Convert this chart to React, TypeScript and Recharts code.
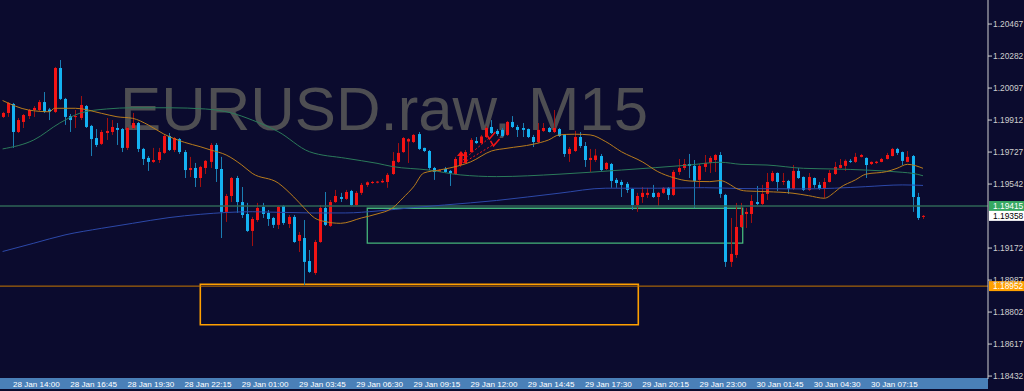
import { ComposedChart, Bar, Line, XAxis, YAxis, ReferenceLine, ReferenceArea, ReferenceDot } from 'recharts'

// EURUSD M15 bars, 28 Jan 13:30 → 30 Jan 09:45 (one entry per bar)
const OPEN = [
  1.19930, 1.19953, 1.20005, 1.19843, 1.19901, 1.19935, 1.19970, 1.19970, 1.20016, 1.19973,
  1.19959, 1.20213, 1.20034, 1.19935, 1.19930, 1.19924, 1.19993, 1.19878, 1.19808, 1.19774,
  1.19837, 1.19843, 1.19866, 1.19860, 1.19751, 1.19866, 1.19895, 1.19745, 1.19693, 1.19670,
  1.19681, 1.19722, 1.19820, 1.19739, 1.19802, 1.19727, 1.19623, 1.19635, 1.19577, 1.19635,
  1.19670, 1.19768, 1.19629, 1.19381, 1.19473, 1.19577, 1.19438, 1.19369, 1.19271, 1.19334,
  1.19410, 1.19375, 1.19346, 1.19306, 1.19415, 1.19311, 1.19352, 1.19213, 1.19230, 1.19097,
  1.19028, 1.19207, 1.19404, 1.19300, 1.19438, 1.19467, 1.19456, 1.19502, 1.19421, 1.19491,
  1.19537, 1.19548, 1.19550, 1.19552, 1.19554, 1.19600, 1.19670, 1.19727, 1.19788, 1.19785,
  1.19831, 1.19751, 1.19733, 1.19635, 1.19612, 1.19629, 1.19618, 1.19600, 1.19652, 1.19664,
  1.19727, 1.19791, 1.19779, 1.19814, 1.19872, 1.19849, 1.19855, 1.19826, 1.19901, 1.19872,
  1.19866, 1.19860, 1.19814, 1.19785, 1.19849, 1.19866, 1.19843, 1.19860, 1.19826, 1.19716,
  1.19733, 1.19814, 1.19762, 1.19681, 1.19681, 1.19704, 1.19629, 1.19658, 1.19566, 1.19554,
  1.19543, 1.19514, 1.19421, 1.19467, 1.19479, 1.19491, 1.19467, 1.19491, 1.19520, 1.19479,
  1.19612, 1.19635, 1.19658, 1.19647, 1.19566, 1.19641, 1.19664, 1.19681, 1.19710, 1.19479,
  1.19092, 1.19132, 1.19294, 1.19369, 1.19369, 1.19438, 1.19427, 1.19485, 1.19560, 1.19606,
  1.19554, 1.19560, 1.19514, 1.19618, 1.19583, 1.19508, 1.19577, 1.19537, 1.19514, 1.19554,
  1.19600, 1.19635, 1.19647, 1.19676, 1.19670, 1.19699, 1.19693, 1.19658, 1.19664, 1.19670,
  1.19687, 1.19704, 1.19745, 1.19727, 1.19670, 1.19704, 1.19467, 1.19355,
]
const HIGH = [
  1.19959, 1.20016, 1.20011, 1.19924, 1.19947, 1.19976, 1.19993, 1.20028, 1.20074, 1.19982,
  1.20219, 1.20259, 1.20040, 1.19947, 1.19970, 1.20051, 1.19999, 1.19884, 1.19860, 1.19855,
  1.19924, 1.19912, 1.19895, 1.19866, 1.19872, 1.19953, 1.19901, 1.19751, 1.19704, 1.19751,
  1.19751, 1.19831, 1.19837, 1.19814, 1.19808, 1.19739, 1.19699, 1.19664, 1.19647, 1.19681,
  1.19779, 1.19779, 1.19699, 1.19485, 1.19583, 1.19589, 1.19525, 1.19433, 1.19352, 1.19433,
  1.19433, 1.19392, 1.19352, 1.19415, 1.19421, 1.19363, 1.19363, 1.19265, 1.19334, 1.19161,
  1.19219, 1.19421, 1.19496, 1.19450, 1.19508, 1.19491, 1.19508, 1.19508, 1.19502, 1.19548,
  1.19557, 1.19560, 1.19560, 1.19572, 1.19606, 1.19727, 1.19779, 1.19814, 1.19808, 1.19831,
  1.19843, 1.19752, 1.19739, 1.19641, 1.19629, 1.19641, 1.19623, 1.19699, 1.19716, 1.19739,
  1.19808, 1.19814, 1.19826, 1.19878, 1.19912, 1.19860, 1.19866, 1.19907, 1.19935, 1.19884,
  1.19895, 1.19863, 1.19826, 1.19895, 1.19895, 1.19872, 1.19970, 1.19866, 1.19831, 1.19756,
  1.19849, 1.19843, 1.19785, 1.19745, 1.19745, 1.19716, 1.19670, 1.19664, 1.19577, 1.19566,
  1.19554, 1.19517, 1.19491, 1.19525, 1.19520, 1.19537, 1.19496, 1.19525, 1.19525, 1.19623,
  1.19687, 1.19687, 1.19716, 1.19681, 1.19658, 1.19710, 1.19704, 1.19716, 1.19727, 1.19485,
  1.19346, 1.19433, 1.19433, 1.19404, 1.19479, 1.19531, 1.19537, 1.19606, 1.19618, 1.19609,
  1.19606, 1.19566, 1.19652, 1.19635, 1.19586, 1.19606, 1.19580, 1.19554, 1.19577, 1.19623,
  1.19670, 1.19687, 1.19684, 1.19687, 1.19722, 1.19716, 1.19696, 1.19673, 1.19676, 1.19693,
  1.19722, 1.19751, 1.19751, 1.19730, 1.19733, 1.19710, 1.19491, 1.19363,
]
const LOW = [
  1.19924, 1.19930, 1.19751, 1.19837, 1.19866, 1.19918, 1.19930, 1.19964, 1.19953, 1.19912,
  1.19953, 1.20028, 1.19884, 1.19843, 1.19866, 1.19912, 1.19866, 1.19704, 1.19756, 1.19768,
  1.19797, 1.19826, 1.19768, 1.19727, 1.19739, 1.19860, 1.19727, 1.19652, 1.19618, 1.19664,
  1.19664, 1.19716, 1.19733, 1.19727, 1.19716, 1.19577, 1.19583, 1.19525, 1.19525, 1.19600,
  1.19635, 1.19554, 1.19230, 1.19323, 1.19438, 1.19375, 1.19346, 1.19265, 1.19184, 1.19323,
  1.19346, 1.19300, 1.19288, 1.19282, 1.19306, 1.19288, 1.19202, 1.19149, 1.18959, 1.19028,
  1.19017, 1.19202, 1.19300, 1.19294, 1.19433, 1.19438, 1.19450, 1.19415, 1.19415, 1.19479,
  1.19525, 1.19543, 1.19546, 1.19548, 1.19520, 1.19595, 1.19664, 1.19722, 1.19664, 1.19779,
  1.19739, 1.19727, 1.19623, 1.19566, 1.19612, 1.19606, 1.19531, 1.19595, 1.19641, 1.19658,
  1.19722, 1.19774, 1.19774, 1.19808, 1.19831, 1.19820, 1.19814, 1.19820, 1.19866, 1.19814,
  1.19814, 1.19808, 1.19756, 1.19779, 1.19843, 1.19840, 1.19837, 1.19814, 1.19699, 1.19670,
  1.19727, 1.19751, 1.19641, 1.19612, 1.19670, 1.19612, 1.19623, 1.19520, 1.19520, 1.19467,
  1.19491, 1.19392, 1.19381, 1.19433, 1.19462, 1.19462, 1.19415, 1.19485, 1.19450, 1.19473,
  1.19595, 1.19623, 1.19577, 1.19404, 1.19520, 1.19612, 1.19606, 1.19612, 1.19462, 1.19063,
  1.19063, 1.19115, 1.19288, 1.19288, 1.19317, 1.19421, 1.19421, 1.19450, 1.19554, 1.19502,
  1.19537, 1.19485, 1.19508, 1.19572, 1.19502, 1.19502, 1.19520, 1.19508, 1.19462, 1.19551,
  1.19595, 1.19632, 1.19618, 1.19664, 1.19664, 1.19696, 1.19577, 1.19652, 1.19658, 1.19668,
  1.19684, 1.19702, 1.19710, 1.19652, 1.19668, 1.19381, 1.19334, 1.19340,
]
const CLOSE = [
  1.19953, 1.20011, 1.19843, 1.19912, 1.19941, 1.19970, 1.19982, 1.20016, 1.19959, 1.19961,
  1.20213, 1.20034, 1.19930, 1.19912, 1.19935, 1.19999, 1.19872, 1.19802, 1.19768, 1.19843,
  1.19849, 1.19872, 1.19855, 1.19751, 1.19866, 1.19895, 1.19745, 1.19687, 1.19670, 1.19681,
  1.19727, 1.19820, 1.19739, 1.19808, 1.19727, 1.19623, 1.19635, 1.19577, 1.19641, 1.19676,
  1.19768, 1.19629, 1.19381, 1.19473, 1.19577, 1.19438, 1.19363, 1.19271, 1.19340, 1.19404,
  1.19369, 1.19340, 1.19306, 1.19410, 1.19317, 1.19352, 1.19207, 1.19248, 1.19092, 1.19034,
  1.19207, 1.19404, 1.19306, 1.19438, 1.19473, 1.19456, 1.19496, 1.19421, 1.19491, 1.19537,
  1.19552, 1.19554, 1.19556, 1.19560, 1.19595, 1.19676, 1.19722, 1.19808, 1.19802, 1.19826,
  1.19745, 1.19733, 1.19635, 1.19612, 1.19623, 1.19612, 1.19606, 1.19687, 1.19699, 1.19727,
  1.19797, 1.19779, 1.19817, 1.19866, 1.19837, 1.19831, 1.19820, 1.19901, 1.19872, 1.19855,
  1.19855, 1.19814, 1.19785, 1.19855, 1.19866, 1.19843, 1.19866, 1.19820, 1.19716, 1.19745,
  1.19814, 1.19762, 1.19681, 1.19693, 1.19707, 1.19623, 1.19664, 1.19560, 1.19548, 1.19537,
  1.19508, 1.19421, 1.19473, 1.19491, 1.19491, 1.19467, 1.19491, 1.19520, 1.19479, 1.19612,
  1.19635, 1.19658, 1.19647, 1.19560, 1.19647, 1.19664, 1.19693, 1.19710, 1.19485, 1.19092,
  1.19138, 1.19294, 1.19363, 1.19381, 1.19444, 1.19427, 1.19485, 1.19554, 1.19606, 1.19554,
  1.19560, 1.19514, 1.19618, 1.19577, 1.19508, 1.19583, 1.19537, 1.19514, 1.19554, 1.19606,
  1.19641, 1.19652, 1.19676, 1.19670, 1.19699, 1.19710, 1.19652, 1.19670, 1.19671, 1.19687,
  1.19710, 1.19745, 1.19722, 1.19676, 1.19699, 1.19467, 1.19346, 1.19358,
]

// moving averages at [bar, price]
const MA_FAST: [number, number][] = [
  [0, 1.20025], [5, 1.19970], [9, 1.19960], [10, 1.19980], [14, 1.19980], [19, 1.19951], [22, 1.19931],
  [25, 1.19922], [28, 1.19884], [31, 1.19831], [35, 1.19783], [38, 1.19758], [40, 1.19739], [43, 1.19710],
  [46, 1.19652], [48, 1.19604], [53, 1.19548], [56, 1.19467], [58, 1.19404], [60, 1.19346], [62, 1.19325],
  [65, 1.19315], [69, 1.19346], [72, 1.19369], [75, 1.19404], [77, 1.19462], [79, 1.19525], [81, 1.19606],
  [84, 1.19623], [86, 1.19635], [90, 1.19670], [94, 1.19733], [97, 1.19749], [102, 1.19772], [105, 1.19797],
  [107, 1.19826], [110, 1.19830], [113, 1.19826], [116, 1.19787], [119, 1.19729], [123, 1.19671],
  [126, 1.19614], [129, 1.19579], [132, 1.19560], [136, 1.19556], [138, 1.19562], [140, 1.19537],
  [141, 1.19518], [143, 1.19502], [147, 1.19498], [152, 1.19489], [155, 1.19475], [158, 1.19460],
  [160, 1.19495], [161, 1.19520], [164, 1.19566], [166, 1.19599], [170, 1.19614], [172, 1.19633],
  [174, 1.19656], [177, 1.19633],
]
const MA_MID: [number, number][] = [
  [0, 1.19745], [6, 1.19797], [11, 1.19895], [15, 1.19953], [20, 1.19976], [25, 1.19983], [32, 1.19983],
  [39, 1.19976], [44, 1.19953], [48, 1.19912], [53, 1.19845], [59, 1.19729], [66, 1.19691], [72, 1.19662],
  [75, 1.19643], [82, 1.19623], [88, 1.19595], [95, 1.19585], [107, 1.19599], [119, 1.19623], [132, 1.19652],
  [138, 1.19668], [142, 1.19656], [147, 1.19652], [154, 1.19633], [160, 1.19629], [166, 1.19623],
  [173, 1.19610], [175, 1.19604], [177, 1.19590],
]
const MA_SLOW: [number, number][] = [
  [0, 1.19152], [6, 1.19200], [12, 1.19248], [19, 1.19286], [25, 1.19315], [32, 1.19348], [38, 1.19367],
  [48, 1.19382], [59, 1.19375], [66, 1.19375], [72, 1.19386], [79, 1.19406], [85, 1.19421], [95, 1.19447],
  [107, 1.19489], [116, 1.19518], [126, 1.19518], [135, 1.19521], [142, 1.19516], [154, 1.19514],
  [160, 1.19518], [166, 1.19527], [173, 1.19537], [177, 1.19534],
]

const TIME_TICK_BARS = [2, 13, 24, 35, 46, 57, 68, 79, 90, 101, 112, 123, 134, 145, 156, 167]
const TIME_LABELS = [
  '28 Jan 14:00', '28 Jan 16:45', '28 Jan 19:30', '28 Jan 22:15', '29 Jan 01:00', '29 Jan 03:45',
  '29 Jan 06:30', '29 Jan 09:15', '29 Jan 12:00', '29 Jan 14:45', '29 Jan 17:30', '29 Jan 20:15',
  '29 Jan 23:00', '30 Jan 01:45', '30 Jan 04:30', '30 Jan 07:15',
]
const PRICE_TICKS = [1.18432, 1.18617, 1.18802, 1.18987, 1.19172, 1.19542, 1.19727, 1.19912, 1.20097, 1.20282, 1.20467]
const Y_DOMAIN: [number, number] = [1.18415, 1.20606]
const X_DOMAIN: [number, number] = [-0.5, 189.5]

const SUPPORT_LINE = 1.19415
const LOW_LINE = 1.18952
const BID = 1.19358
const GREEN_BOX = { from: 70.13, to: 142.33, low: 1.19200, high: 1.19402 }
const ORANGE_BOX = { from: 38.02, to: 122.25, low: 1.18729, high: 1.18963 }
const BUY_ARROW = { bar: 88.15, price: 1.19699 }
const CLOSE_MARKS = [{ bar: 93.8, price: 1.19814 }, { bar: 94.6, price: 1.19774 }]

const BG = '#0b0b2e'
const UP = '#f41414'
const UP_WICK = '#a01010'
const DOWN = '#14b2f2'
const DOWN_WICK = '#1a7db2'
const FONT = "'Liberation Sans', Arial, sans-serif"

const lookup = (pairs: [number, number][]) => new Map(pairs.map(([b, p]) => [b, p]))
const fastAt = lookup(MA_FAST)
const midAt = lookup(MA_MID)
const slowAt = lookup(MA_SLOW)

const rows = OPEN.map((open, i) => ({
  i, open, high: HIGH[i], low: LOW[i], close: CLOSE[i],
  fast: fastAt.get(i) ?? null, mid: midAt.get(i) ?? null, slow: slowAt.get(i) ?? null,
}))

function Candle(props: any) {
  const { x, y, width, height, payload } = props
  if (!payload || x == null || y == null) return <g />
  const { open, close, high, low } = payload
  const top = height < 0 ? y + height : y
  const h = Math.abs(height)
  const span = high - low || 1e-9
  const py = (p: number) => top + ((high - p) / span) * h
  const c = Math.round(x + width / 2)
  const up = close >= open
  const bTop = py(Math.max(open, close))
  const bBot = py(Math.min(open, close))
  return (
    <g>
      <line x1={c + 0.5} x2={c + 0.5} y1={top} y2={top + h} stroke={up ? UP_WICK : DOWN_WICK} strokeWidth={1} />
      <rect x={c - 1} y={bTop} width={3} height={Math.max(1, bBot - bTop)} fill={up ? UP : DOWN} />
    </g>
  )
}

function PriceTick({ x, y, payload }: any) {
  return (
    <text x={x} y={y + 3} fill="#cfcfcf" fontSize={8.4} fontFamily={FONT} textAnchor="start">
      {Number(payload.value).toFixed(5)}
    </text>
  )
}

function TimeTick({ x, y, payload }: any) {
  const label = TIME_LABELS[TIME_TICK_BARS.indexOf(payload.value)]
  return (
    <text x={x} y={y + 7.8} fill="#ffffff" fontSize={8.1} fontFamily={FONT} textAnchor="start">
      {label}
    </text>
  )
}

function PriceTag({ viewBox, text, bg, fg }: any) {
  if (!viewBox) return null
  const left = viewBox.x + viewBox.width
  return (
    <g>
      <rect x={left + 1} y={viewBox.y - 5} width={36} height={10} fill={bg} />
      <text x={left + 5} y={viewBox.y + 3} fill={fg} fontSize={8.4} fontFamily={FONT}>{text}</text>
    </g>
  )
}

function ArrowUp({ cx, cy }: any) {
  if (cx == null) return <g />
  return (
    <path
      d={`M${cx},${cy - 6} L${cx + 4},${cy - 1} L${cx + 1.5},${cy - 1} L${cx + 1.5},${cy + 6} L${cx - 1.5},${cy + 6} L${cx - 1.5},${cy - 1} L${cx - 4},${cy - 1} Z`}
      fill={UP}
    />
  )
}

function Check({ cx, cy }: any) {
  if (cx == null) return <g />
  return <path d={`M${cx - 4},${cy - 3} L${cx - 1},${cy + 2} L${cx + 5},${cy - 5}`} fill="none" stroke={UP} strokeWidth={1.5} />
}

export default function App() {
  return (
    <div style={{ position: 'absolute', left: 0, top: 0, width: 1024, height: 391, background: BG, overflow: 'hidden' }}>
      <svg width={1024} height={391} style={{ position: 'absolute', left: 0, top: 0 }}>
        <text x={120} y={130} fontSize={62} fill="#4e4e52" fontFamily={FONT} textLength={528} lengthAdjust="spacingAndGlyphs">
          EURUSD.raw, M15
        </text>
        <rect x={0} y={378} width={988} height={11} fill="#4a80b8" />
      </svg>
      <ComposedChart
        width={1024} height={391} data={rows}
        margin={{ top: 0, right: 0, bottom: 0, left: 0 }}
        style={{ position: 'absolute', left: 0, top: 0 }}
      >
        <XAxis
          dataKey="i" type="number" domain={X_DOMAIN} allowDataOverflow ticks={TIME_TICK_BARS}
          interval={0} height={12} axisLine={false} tickLine={false} tickSize={0} tickMargin={0}
          tick={<TimeTick />}
        />
        <YAxis
          orientation="right" type="number" width={36} domain={Y_DOMAIN} allowDataOverflow
          ticks={PRICE_TICKS} interval={0} tickSize={4} tickMargin={1}
          axisLine={{ stroke: '#d0d0d0' }} tickLine={{ stroke: '#d0d0d0' }} tick={<PriceTick />}
        />
        <ReferenceArea
          x1={GREEN_BOX.from} x2={GREEN_BOX.to} y1={GREEN_BOX.low} y2={GREEN_BOX.high}
          fill="none" stroke="#45b57a" strokeWidth={1.3}
        />
        <ReferenceArea
          x1={ORANGE_BOX.from} x2={ORANGE_BOX.to} y1={ORANGE_BOX.low} y2={ORANGE_BOX.high}
          fill="none" stroke="#ffa000" strokeWidth={1.6}
        />
        <ReferenceLine
          y={SUPPORT_LINE} stroke="#2f6656" strokeWidth={1.4}
          label={<PriceTag text={SUPPORT_LINE.toFixed(5)} bg="#36a862" fg="#ffffff" />}
        />
        <ReferenceLine
          y={LOW_LINE} stroke="#c87800" strokeWidth={1}
          label={<PriceTag text={LOW_LINE.toFixed(5)} bg="#ffa000" fg="#ffffff" />}
        />
        <ReferenceLine
          y={BID} stroke="none" strokeOpacity={0}
          label={<PriceTag text={BID.toFixed(5)} bg="#ffffff" fg="#000000" />}
        />
        <Bar dataKey={(d: any) => [d.low, d.high]} shape={<Candle />} activeBar={false} isAnimationActive={false} />
        <Line dataKey="slow" stroke="#2c48a8" strokeWidth={1} dot={false} activeDot={false} connectNulls type="monotone" isAnimationActive={false} />
        <Line dataKey="mid" stroke="#2b7a5a" strokeWidth={1} dot={false} activeDot={false} connectNulls type="monotone" isAnimationActive={false} />
        <Line dataKey="fast" stroke="#b97c1c" strokeWidth={1} dot={false} activeDot={false} connectNulls type="monotone" isAnimationActive={false} />
        <ReferenceLine
          segment={[{ x: BUY_ARROW.bar + 0.4, y: 1.19681 }, { x: CLOSE_MARKS[0].bar, y: CLOSE_MARKS[0].price }]}
          stroke={UP} strokeDasharray="2 2"
        />
        <ReferenceLine
          segment={[{ x: BUY_ARROW.bar + 0.4, y: 1.19664 }, { x: CLOSE_MARKS[1].bar, y: CLOSE_MARKS[1].price }]}
          stroke={UP} strokeDasharray="2 2"
        />
        <ReferenceDot x={BUY_ARROW.bar} y={BUY_ARROW.price} shape={<ArrowUp />} />
        {CLOSE_MARKS.map((m, k) => (
          <ReferenceDot key={k} x={m.bar} y={m.price} shape={<Check />} />
        ))}
      </ComposedChart>
    </div>
  )
}
